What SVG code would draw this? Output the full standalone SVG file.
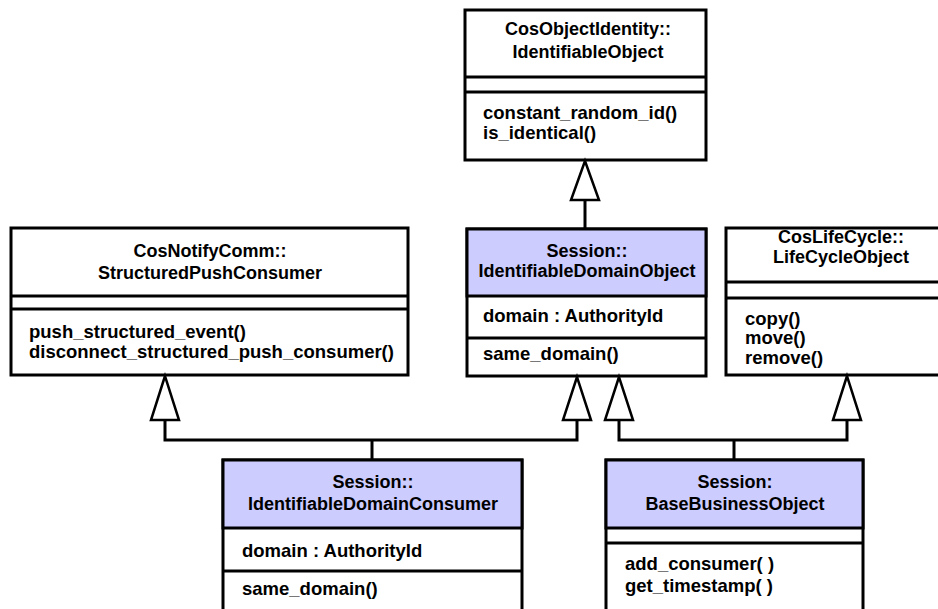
<svg xmlns="http://www.w3.org/2000/svg" width="938" height="609" viewBox="0 0 938 609">
  <style>
    .box { fill: #ffffff; stroke: #000000; stroke-width: 3; }
    .hdr { fill: #ccccff; stroke: #000000; stroke-width: 3; }
    .sep { stroke: #000000; stroke-width: 3; }
    .t { font-family: "Liberation Sans", Arial, sans-serif; font-weight: bold; font-size: 18.5px; fill: #000000; }
    .c { text-anchor: middle; font-size: 18px; }
    .edge { fill: none; stroke: #000000; stroke-width: 3; }
    .tri { fill: #ffffff; stroke: #000000; stroke-width: 2.5; stroke-linejoin: miter; }
  </style>
  <rect width="938" height="609" fill="#ffffff"/>

  <!-- CosObjectIdentity::IdentifiableObject -->
  <g id="identifiable-object">
    <rect class="box" x="465" y="10" width="241" height="150"/>
    <line class="sep" x1="465" y1="77" x2="706" y2="77"/>
    <line class="sep" x1="465" y1="92" x2="706" y2="92"/>
    <text class="t c" x="588" y="35">CosObjectIdentity::</text>
    <text class="t c" x="588" y="58">IdentifiableObject</text>
    <text class="t" x="483" y="119">constant_random_id()</text>
    <text class="t" x="483" y="139">is_identical()</text>
  </g>

  <!-- CosNotifyComm::StructuredPushConsumer -->
  <g id="structured-push-consumer">
    <rect class="box" x="11" y="228" width="397" height="147"/>
    <line class="sep" x1="11" y1="296" x2="408" y2="296"/>
    <line class="sep" x1="11" y1="309" x2="408" y2="309"/>
    <text class="t c" x="210" y="257">CosNotifyComm::</text>
    <text class="t c" x="210" y="279">StructuredPushConsumer</text>
    <text class="t" x="29" y="338">push_structured_event()</text>
    <text class="t" x="29" y="358">disconnect_structured_push_consumer()</text>
  </g>

  <!-- Session::IdentifiableDomainObject -->
  <g id="identifiable-domain-object">
    <rect class="box" x="467" y="229" width="239" height="147"/>
    <rect class="hdr" x="467" y="229" width="239" height="67"/>
    <line class="sep" x1="467" y1="338" x2="706" y2="338"/>
    <text class="t c" x="587" y="257">Session::</text>
    <text class="t c" x="587" y="277">IdentifiableDomainObject</text>
    <text class="t" x="483" y="322">domain : AuthorityId</text>
    <text class="t" x="483" y="360">same_domain()</text>
  </g>

  <!-- CosLifeCycle::LifeCycleObject -->
  <g id="life-cycle-object">
    <rect class="box" x="726" y="228" width="234" height="147"/>
    <line class="sep" x1="726" y1="282" x2="960" y2="282"/>
    <line class="sep" x1="726" y1="298" x2="960" y2="298"/>
    <text class="t c" x="841" y="243">CosLifeCycle::</text>
    <text class="t c" x="841" y="263">LifeCycleObject</text>
    <text class="t" x="745" y="325">copy()</text>
    <text class="t" x="745" y="344">move()</text>
    <text class="t" x="745" y="364">remove()</text>
  </g>

  <!-- Session::IdentifiableDomainConsumer -->
  <g id="identifiable-domain-consumer">
    <rect class="box" x="223" y="460" width="299" height="170"/>
    <rect class="hdr" x="223" y="460" width="299" height="68"/>
    <line class="sep" x1="223" y1="571" x2="522" y2="571"/>
    <text class="t c" x="373" y="488">Session::</text>
    <text class="t c" x="373" y="510">IdentifiableDomainConsumer</text>
    <text class="t" x="242" y="557">domain : AuthorityId</text>
    <text class="t" x="242" y="595">same_domain()</text>
  </g>

  <!-- Session:BaseBusinessObject -->
  <g id="base-business-object">
    <rect class="box" x="606" y="460" width="257" height="170"/>
    <rect class="hdr" x="606" y="460" width="257" height="68"/>
    <line class="sep" x1="606" y1="543" x2="863" y2="543"/>
    <text class="t c" x="735" y="488">Session:</text>
    <text class="t c" x="735" y="510">BaseBusinessObject</text>
    <text class="t" x="625" y="570">add_consumer( )</text>
    <text class="t" x="625" y="592">get_timestamp( )</text>
  </g>

  <!-- generalization connectors -->
  <g id="connectors">
    <line class="edge" x1="585" y1="200" x2="585" y2="229"/>
    <polygon class="tri" points="585,161 571,200 599,200"/>

    <polyline class="edge" points="165,420 165,440 577,440 577,420"/>
    <line class="edge" x1="372" y1="440" x2="372" y2="460"/>
    <polygon class="tri" points="165,376 151,420 179,420"/>
    <polygon class="tri" points="577,377 563,420 591,420"/>

    <polyline class="edge" points="619,420 619,440 847,440 847,420"/>
    <line class="edge" x1="734" y1="440" x2="734" y2="460"/>
    <polygon class="tri" points="619,377 605,420 633,420"/>
    <polygon class="tri" points="847,376 833,420 861,420"/>
  </g>
</svg>
